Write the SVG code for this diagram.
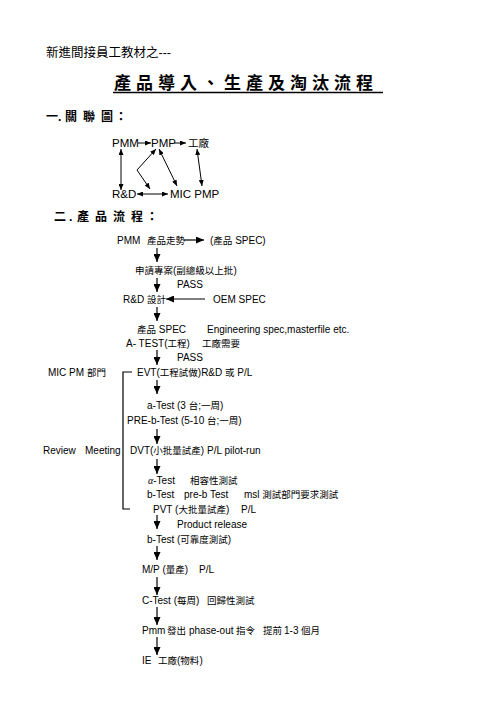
<svg xmlns="http://www.w3.org/2000/svg" width="496" height="702" viewBox="0 0 496 702">
<style>
text{font-family:"Liberation Sans","Noto Sans CJK TC",sans-serif;fill:#000}
.t{font-size:10px}
.r{font-size:11.5px}
.cj{font-size:9.5px}
.hd{font-size:12.5px}
.ttl{font-size:17px;font-weight:bold;letter-spacing:5px}
.sec{font-size:12px;font-weight:bold}
.ln{stroke:#000;stroke-width:1.2;fill:none}
.sl{stroke:#000;stroke-width:1;fill:none}
</style>
<defs>
<marker id="ah" markerUnits="userSpaceOnUse" markerWidth="8" markerHeight="7" refX="8" refY="3.5" orient="auto-start-reverse"><path d="M0,0 L8,3.5 L0,7 z" fill="#000"/></marker>
<marker id="sm" markerUnits="userSpaceOnUse" markerWidth="6" markerHeight="5" refX="6" refY="2.5" orient="auto-start-reverse"><path d="M0,0 L6,2.5 L0,5 z" fill="#000"/></marker>
</defs>
<rect width="496" height="702" fill="#fff"/>
<g id="header">
<text class="hd" x="46" y="57">新進間接員工教材之---</text>
<text class="ttl" x="114" y="89">產品導入、生產及淘汰流程</text>
<line x1="113" y1="92.5" x2="383" y2="92.5" stroke="#000" stroke-width="1.5"/>
<text class="sec" x="46" y="121">一<tspan x="58">.</tspan><tspan x="65">關</tspan><tspan x="83">聯</tspan><tspan x="101">圖</tspan><tspan x="115">：</tspan></text>
<text class="sec" x="54" y="221">二<tspan x="69">.</tspan><tspan x="77">產</tspan><tspan x="95">品</tspan><tspan x="113">流</tspan><tspan x="131">程</tspan><tspan x="146">：</tspan></text>
</g>
<g id="rel-pmm"><text class="r" x="112" y="147">PMM</text></g>
<g id="rel-pmp"><text class="r" x="151" y="147">PMP</text></g>
<g id="rel-factory"><text class="r" x="188" y="147" style="font-size:10.5px">工廠</text></g>
<g id="rel-rd"><text class="r" x="112" y="198">R&amp;D</text></g>
<g id="rel-mic"><text class="r" x="170" y="198">MIC PMP</text></g>
<g id="rel-connectors">
<line class="sl" x1="138" y1="143" x2="151" y2="143" marker-end="url(#sm)"/>
<line class="sl" x1="174" y1="143" x2="186" y2="143" marker-end="url(#sm)"/>
<line class="sl" x1="121" y1="149" x2="121" y2="190" marker-start="url(#sm)" marker-end="url(#sm)"/>
<polyline class="sl" points="156,149 137,170 150,189" marker-start="url(#sm)" marker-end="url(#sm)"/>
<line class="sl" x1="159" y1="149" x2="177" y2="186" marker-start="url(#sm)" marker-end="url(#sm)"/>
<line class="sl" x1="197" y1="149" x2="202" y2="186" marker-start="url(#sm)" marker-end="url(#sm)"/>
<line class="sl" x1="137" y1="194" x2="168" y2="194" marker-start="url(#sm)" marker-end="url(#sm)"/>
</g>
<g id="flow-nodes" class="t">
<g id="n1"><text class="t" x="117" y="244">PMM <tspan class="cj" x="147">產品走勢</tspan></text><text class="t" x="210" y="244">(<tspan class="cj">產品</tspan> SPEC)</text></g>
<g id="n2"><text class="t" x="135" y="274"><tspan class="cj">申請專案</tspan>(<tspan class="cj">副總級以上批</tspan>)</text></g>
<g id="pass1"><text class="t" x="177" y="288">PASS</text></g>
<g id="n3"><text class="t" x="123" y="303">R&amp;D <tspan class="cj" x="147">設計</tspan></text><text class="t" x="213" y="303">OEM SPEC</text></g>
<g id="n4"><text class="t" x="137" y="333"><tspan class="cj">產品</tspan> SPEC</text><text class="t" x="207" y="333">Engineering spec,masterfile etc.</text></g>
<g id="n5"><text class="t" x="126" y="347">A- TEST(<tspan class="cj">工程</tspan>)</text><text class="t cj" x="202" y="347">工廠需要</text></g>
<g id="pass2"><text class="t" x="177" y="361">PASS</text></g>
<g id="mic"><text class="t" x="48" y="376">MIC PM <tspan class="cj">部門</tspan></text></g>
<g id="n6"><text class="t" x="137" y="376">EVT(<tspan class="cj">工程試做</tspan>)R&amp;D <tspan class="cj">或</tspan> P/L</text></g>
<g id="n7"><text class="t" x="147" y="409">a-Test (3 <tspan class="cj">台</tspan>;<tspan class="cj">一周</tspan>)</text></g>
<g id="n8"><text class="t" x="127" y="424">PRE-b-Test (5-10 <tspan class="cj">台</tspan>;<tspan class="cj">一周</tspan>)</text></g>
<g id="review"><text class="t" x="43" y="454">Review</text><text class="t" x="85" y="454">Meeting</text></g>
<g id="n9"><text class="t" x="130" y="454">DVT(<tspan class="cj">小批量試產</tspan>) P/L pilot-run</text></g>
<g id="n10"><text class="t" x="148" y="484"><tspan style="font-family:'Liberation Serif',serif;font-style:italic">α</tspan>-Test</text><text class="t cj" x="190" y="484">相容性測試</text></g>
<g id="n11"><text class="t" x="147" y="498">b-Test</text><text class="t" x="184" y="498">pre-b Test</text><text class="t" x="244" y="498">msl <tspan class="cj">測試部門要求測試</tspan></text></g>
<g id="n12"><text class="t" x="153" y="513">PVT (<tspan class="cj">大批量試產</tspan>)</text><text class="t" x="241" y="513">P/L</text></g>
<g id="release"><text class="t" x="177" y="528">Product release</text></g>
<g id="n13"><text class="t" x="147" y="543">b-Test (<tspan class="cj">可靠度測試</tspan>)</text></g>
<g id="n14"><text class="t" x="142" y="573">M/P (<tspan class="cj">量產</tspan>)</text><text class="t" x="199" y="573">P/L</text></g>
<g id="n15"><text class="t" x="142" y="604">C-Test (<tspan class="cj">每周</tspan>)</text><text class="t cj" x="207" y="604">回歸性測試</text></g>
<g id="n16"><text class="t" x="142" y="634">Pmm</text><text class="t cj" x="167" y="634">發出</text><text class="t" x="189" y="634">phase-out</text><text class="t cj" x="236" y="634">指令</text><text class="t cj" x="263" y="634">提前</text><text class="t" x="284" y="634">1-3</text><text class="t cj" x="301" y="634">個月</text></g>
<g id="n17"><text class="t" x="142" y="664">IE <tspan class="cj" x="158">工廠</tspan>(<tspan class="cj">物料</tspan>)</text></g>
</g>
<g id="flow-connectors">
<line class="ln" x1="184" y1="240" x2="204" y2="240" marker-end="url(#ah)"/>
<line class="ln" x1="205" y1="299" x2="166" y2="299" marker-end="url(#ah)"/>
<line class="ln" x1="157" y1="248" x2="157" y2="262" marker-end="url(#ah)"/>
<line class="ln" x1="157" y1="278" x2="157" y2="292" marker-end="url(#ah)"/>
<line class="ln" x1="157" y1="307" x2="157" y2="321" marker-end="url(#ah)"/>
<line class="ln" x1="157" y1="350" x2="157" y2="365" marker-end="url(#ah)"/>
<line class="ln" x1="157" y1="380" x2="157" y2="394" marker-end="url(#ah)"/>
<line class="ln" x1="157" y1="429" x2="157" y2="444" marker-end="url(#ah)"/>
<line class="ln" x1="157" y1="459" x2="157" y2="474" marker-end="url(#ah)"/>
<line class="ln" x1="157" y1="515" x2="157" y2="529" marker-end="url(#ah)"/>
<line class="ln" x1="157" y1="546" x2="157" y2="560" marker-end="url(#ah)"/>
<line class="ln" x1="157" y1="577" x2="157" y2="595" marker-end="url(#ah)"/>
<line class="ln" x1="157" y1="607" x2="157" y2="625" marker-end="url(#ah)"/>
<line class="ln" x1="157" y1="637" x2="157" y2="655" marker-end="url(#ah)"/>
<path class="ln" d="M132,372 H123 V509 H130"/>
</g>
</svg>
